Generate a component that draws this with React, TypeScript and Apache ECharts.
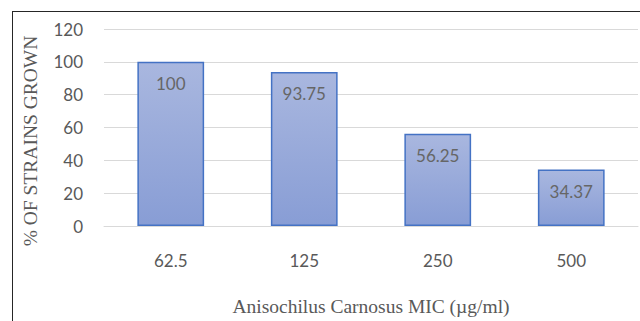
import React, { useEffect, useRef } from "react";
import * as echarts from "echarts";

const categories = ["62.5", "125", "250", "500"];
const values = [100, 93.75, 56.25, 34.37];
const valueLabels = ["100", "93.75", "56.25", "34.37"];
const yTicks = { min: 0, max: 120, interval: 20 };
const xTitle = "Anisochilus Carnosus MIC (µg/ml)";
const yTitle = "% OF STRAINS GROWN";

export default function App() {
  const ref = useRef<HTMLDivElement>(null);
  useEffect(() => {
    if (!ref.current) return;
    const chart = echarts.init(ref.current, null, { renderer: "svg" });
    const numFont = "Lato, 'Open Sans', sans-serif";
    const serif = "'Liberation Serif', 'DejaVu Serif', serif";
    chart.setOption({
      animation: false,
      backgroundColor: "#ffffff",
      grid: { left: 104, right: 2, top: 29, bottom: 89, containLabel: false },
      xAxis: {
        type: "category",
        data: categories,
        axisLine: { show: true, lineStyle: { color: "#d9d9d9", width: 1 } },
        axisTick: { show: false },
        axisLabel: { color: "#595959", fontSize: 17, fontFamily: numFont, margin: 26 },
        name: xTitle,
        nameLocation: "middle",
        nameGap: 70,
        nameTextStyle: { color: "#595959", fontSize: 19.5, fontFamily: serif },
      },
      yAxis: {
        type: "value",
        min: yTicks.min,
        max: yTicks.max,
        interval: yTicks.interval,
        axisLine: { show: false },
        axisTick: { show: false },
        splitLine: { lineStyle: { color: "#d9d9d9", width: 1 } },
        axisLabel: { color: "#595959", fontSize: 17, fontFamily: numFont, margin: 21 },
      },
      graphic: [
        {
          type: "line",
          shape: { x1: 12, y1: 11.5, x2: 640, y2: 11.5 },
          style: { stroke: "#262626", lineWidth: 1 },
        },
        {
          type: "line",
          shape: { x1: 12.5, y1: 11, x2: 12.5, y2: 321 },
          style: { stroke: "#262626", lineWidth: 1 },
        },
        {
          type: "text",
          x: 30,
          y: 141,
          rotation: Math.PI / 2,
          style: {
            text: yTitle,
            fill: "#595959",
            fontSize: 19.5,
            fontFamily: serif,
            align: "center",
            verticalAlign: "middle",
          },
        },
      ],
      series: [
        {
          type: "bar",
          data: values,
          barWidth: "50%",
          itemStyle: {
            color: new echarts.graphic.LinearGradient(0, 0, 0, 1, [
              { offset: 0, color: "#a9b7df" },
              { offset: 1, color: "#889dd5" },
            ]),
            borderColor: "#4472c4",
            borderWidth: 1.5,
          },
          label: {
            show: true,
            position: "insideTop",
            distance: 13,
            color: "#666666",
            fontSize: 17,
            fontFamily: numFont,
            formatter: (p: any) => valueLabels[p.dataIndex],
          },
        },
      ],
    });
    return () => chart.dispose();
  }, []);
  return (
    <div
      ref={ref}
      style={{ position: "fixed", left: 0, top: 0, width: 640, height: 321 }}
    />
  );
}
